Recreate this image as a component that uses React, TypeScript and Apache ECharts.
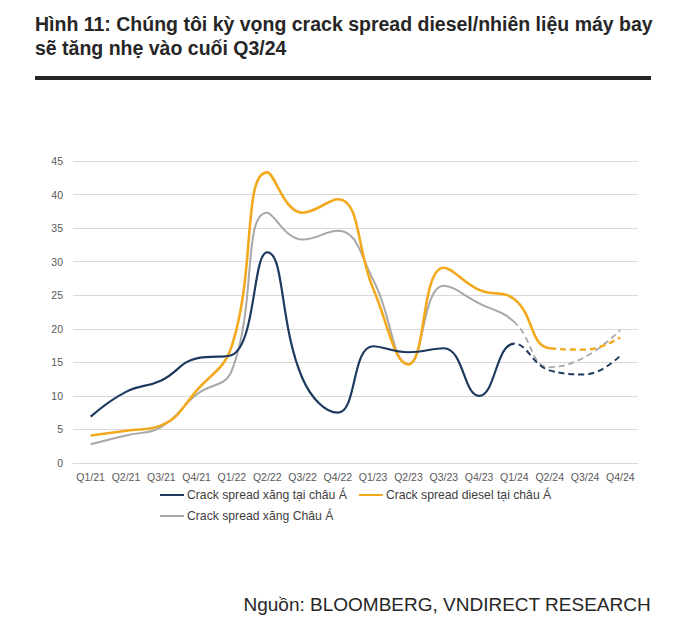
import React, { useEffect, useRef } from "react";
import * as echarts from "echarts";

const categories = ["Q1/21","Q2/21","Q3/21","Q4/21","Q1/22","Q2/22","Q3/22","Q4/22","Q1/23","Q2/23","Q3/23","Q4/23","Q1/24","Q2/24","Q3/24","Q4/24"];
const gasolineAsia = [6.9, 10.6, 12.3, 15.6, 16.1, 31.4, 12.6, 7.5, 17.4, 16.5, 17.1, 10.0, 17.8, 13.8, 13.2, 16.0];
const dieselAsia = [4.1, 4.8, 5.6, 10.8, 17.5, 43.3, 37.3, 39.3, 26.0, 14.7, 29.1, 25.8, 24.4, 17.1, 16.9, 18.7];
const gasolineAsia2 = [2.8, 4.1, 5.4, 10.2, 13.8, 37.3, 33.3, 34.6, 27.3, 14.7, 26.4, 23.8, 21.0, 14.3, 15.8, 19.8];
// category index from which each series is drawn dashed (forecast)
const forecastStarts = [12, 13, 12];
const yTicks = { min: 0, max: 45, interval: 5 };

const names = ["Crack spread xăng tại châu Á", "Crack spread diesel tại châu Á", "Crack spread xăng Châu Á"];
const colors = ["#1b3a5e", "#f2a91e", "#a8a8a8"];
const widths = [2.2, 2.6, 2];

const FONT = "'Liberation Sans', Arial, sans-serif";
const CLEAR = "rgba(255,255,255,0)";

export default function App() {
  const ref = useRef<HTMLDivElement>(null);
  useEffect(() => {
    if (!ref.current) return;
    const chart = echarts.init(ref.current, undefined, { renderer: "svg" });
    const all = [gasolineAsia, dieselAsia, gasolineAsia2];
    const zs = [4, 3, 2];
    const lastIdx = categories.length - 1;
    const series: any[] = [];
    const visualMap: any[] = [];
    all.forEach((arr, k) => {
      series.push({
        name: names[k],
        type: "line",
        data: arr,
        smooth: 0.45,
        showSymbol: false,
        symbol: "none",
        lineStyle: { width: widths[k] },
        itemStyle: { color: colors[k] },
        z: zs[k],
      });
      visualMap.push({
        type: "piecewise",
        show: false,
        dimension: 0,
        seriesIndex: series.length - 1,
        pieces: [
          { gte: -1, lt: forecastStarts[k], color: colors[k] },
          { gte: forecastStarts[k], lte: lastIdx + 1, color: CLEAR },
        ],
        outOfRange: { color: colors[k] },
      });
    });
    all.forEach((arr, k) => {
      series.push({
        name: names[k] + " (dự báo)",
        type: "line",
        data: arr,
        smooth: 0.45,
        showSymbol: false,
        symbol: "none",
        lineStyle: { width: widths[k] - 0.2, type: [6, 4] },
        itemStyle: { color: colors[k] },
        z: zs[k],
      });
      visualMap.push({
        type: "piecewise",
        show: false,
        dimension: 0,
        seriesIndex: series.length - 1,
        pieces: [
          { gte: -1, lt: forecastStarts[k], color: CLEAR },
          { gte: forecastStarts[k], lte: lastIdx + 1, color: colors[k] },
        ],
        outOfRange: { color: CLEAR },
      });
    });
    const legendText = { fontFamily: FONT, fontSize: 12.2, color: "#404040" };
    const legendItem = (k: number) => ({ name: names[k], itemStyle: { color: colors[k] } });
    chart.setOption({
      animation: false,
      backgroundColor: "#ffffff",
      textStyle: { fontFamily: FONT },
      grid: { left: 73, right: 40, top: 161, bottom: 177 },
      xAxis: {
        type: "category",
        data: categories,
        boundaryGap: true,
        axisLine: { show: true, lineStyle: { color: "#d9d9d9", width: 1 } },
        axisTick: { show: false },
        axisLabel: { color: "#595959", fontSize: 10.5, fontFamily: FONT, margin: 8, interval: 0 },
      },
      yAxis: {
        type: "value",
        min: yTicks.min,
        max: yTicks.max,
        interval: yTicks.interval,
        axisLine: { show: false },
        axisTick: { show: false },
        axisLabel: { color: "#595959", fontSize: 10.5, fontFamily: FONT, margin: 10 },
        splitLine: { lineStyle: { color: "#d9d9d9", width: 1 } },
      },
      visualMap,
      legend: [
        {
          data: [legendItem(0), legendItem(1)],
          left: 155,
          top: 484,
          icon: "rect",
          itemWidth: 24,
          itemHeight: 2,
          itemGap: 12,
          textStyle: { ...legendText, padding: [0, 0, 0, -2] },
          selectedMode: false,
        },
        {
          data: [legendItem(2)],
          left: 155,
          top: 505,
          icon: "rect",
          itemWidth: 24,
          itemHeight: 2,
          textStyle: { ...legendText, padding: [0, 0, 0, -2] },
          selectedMode: false,
        },
      ],
      graphic: [
        {
          type: "text",
          left: 35,
          top: 12,
          style: {
            text: "Hình 11: Chúng tôi kỳ vọng crack spread diesel/nhiên liệu máy bay\nsẽ tăng nhẹ vào cuối Q3/24",
            font: `bold 19.5px ${FONT}`,
            fill: "#262626",
            lineHeight: 24,
          },
        },
        {
          type: "rect",
          shape: { x: 35, y: 76, width: 616, height: 4 },
          style: { fill: "#262626" },
        },
        {
          type: "text",
          right: 27,
          top: 595,
          style: {
            text: "Nguồn: BLOOMBERG, VNDIRECT RESEARCH",
            font: `19px ${FONT}`,
            fill: "#262626",
          },
        },
      ],
      series,
    });
    return () => chart.dispose();
  }, []);
  return (
    <div
      ref={ref}
      style={{ position: "fixed", left: 0, top: 0, width: 678, height: 640, background: "#fff" }}
    />
  );
}
